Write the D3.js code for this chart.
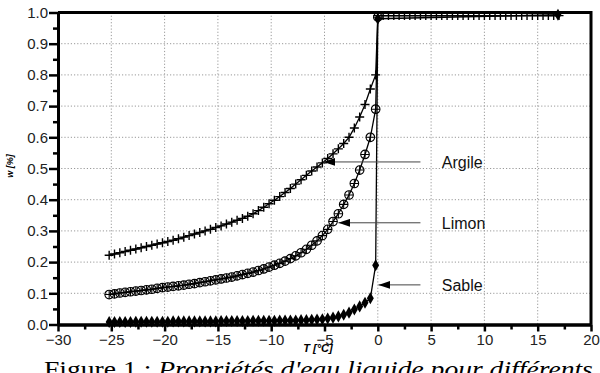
<!DOCTYPE html>
<html>
<head>
<meta charset="utf-8">
<script src="https://cdn.jsdelivr.net/npm/d3@7"></script>
<style>
  body { margin: 0; background: #fff; }
  svg { display: block; font-family: "Liberation Sans", Arial, sans-serif; }
</style>
</head>
<body>
<svg class="chart" width="600" height="373"></svg>
<script>
// temperatures of the measured points (freezing branch)
const temps = [
  -25.2, -24.7, -24.2, -23.7, -23.2, -22.7, -22.2, -21.7, -21.2, -20.7,
  -20.2, -19.7, -19.2, -18.7, -18.2, -17.7, -17.2, -16.7, -16.2, -15.7,
  -15.2, -14.7, -14.2, -13.7, -13.2, -12.7, -12.2, -11.7, -11.2, -10.7,
  -10.2, -9.7, -9.2, -8.7, -8.2, -7.7, -7.2, -6.7, -6.2, -5.7,
  -5.2, -4.7, -4.2, -3.7, -3.2, -2.7, -2.2, -1.7, -1.2, -0.7, -0.2
];

const argile = [
  0.222, 0.226, 0.230, 0.234, 0.238, 0.242, 0.246, 0.250, 0.254, 0.258,
  0.262, 0.266, 0.270, 0.275, 0.280, 0.285, 0.290, 0.295, 0.300, 0.305,
  0.311, 0.316, 0.322, 0.328, 0.334, 0.340, 0.347, 0.355, 0.365, 0.376,
  0.387, 0.398, 0.410, 0.423, 0.436, 0.450, 0.464, 0.478, 0.492, 0.505,
  0.518, 0.532, 0.547, 0.563, 0.580, 0.600, 0.630, 0.665, 0.705, 0.755, 0.800
];

const limon = [
  0.096, 0.098, 0.101, 0.103, 0.105, 0.107, 0.109, 0.111, 0.113, 0.116,
  0.118, 0.120, 0.122, 0.124, 0.126, 0.129, 0.131, 0.134, 0.137, 0.140,
  0.143, 0.146, 0.149, 0.152, 0.156, 0.160, 0.164, 0.168, 0.173, 0.178,
  0.184, 0.190, 0.196, 0.203, 0.211, 0.220, 0.230, 0.241, 0.254, 0.268,
  0.285, 0.305, 0.330, 0.355, 0.385, 0.415, 0.452, 0.495, 0.545, 0.600, 0.690
];

const sable = [
  0.008, 0.008, 0.008, 0.008, 0.008, 0.009, 0.009, 0.009, 0.009, 0.009,
  0.009, 0.009, 0.010, 0.010, 0.010, 0.010, 0.010, 0.010, 0.010, 0.010,
  0.010, 0.011, 0.011, 0.011, 0.011, 0.011, 0.011, 0.012, 0.012, 0.012,
  0.012, 0.012, 0.013, 0.013, 0.013, 0.013, 0.014, 0.014, 0.015, 0.016,
  0.017, 0.019, 0.022, 0.026, 0.031, 0.038, 0.048, 0.058, 0.070, 0.084, 0.190
];

// thawed branch (T >= 0)
const tempsMelt = [
  0.0, 0.5, 1.0, 1.5, 2.0, 2.5, 3.0, 3.5, 4.0, 4.5, 5.0, 5.5,
  6.0, 6.5, 7.0, 7.5, 8.0, 8.5, 9.0, 9.5, 10.0, 10.5, 11.0, 11.5,
  12.0, 12.5, 13.0, 13.5, 14.0, 14.5, 15.0, 15.5, 16.0, 16.5, 17.0
];
const argileMelt = [
  0.99, 0.99, 0.99, 0.99, 0.99, 0.99, 0.99, 0.99, 0.99, 0.99, 0.99, 0.99,
  0.99, 0.99, 0.99, 0.99, 0.99, 0.99, 0.99, 0.99, 0.99, 0.99, 0.99, 0.99,
  0.99, 0.99, 0.99, 0.99, 0.99, 0.99, 0.99, 0.99, 0.99, 0.99, 0.99
];
const limonMeltT = [0.0];
const limonMelt = [0.985];
const sableMeltT = [0.0, 16.9];
const sableMelt = [0.98, 0.993];

const xTicks = [-30, -25, -20, -15, -10, -5, 0, 5, 10, 15, 20];
const yTicks = [0.0, 0.1, 0.2, 0.3, 0.4, 0.5, 0.6, 0.7, 0.8, 0.9, 1.0];

// annotations
const labels = ["Argile", "Limon", "Sable"];
const labelTipT = [-5.1, -3.7, 0.06];
const labelW = [0.521, 0.326, 0.127];

const svg = d3.select("svg.chart");

const x = d3.scaleLinear().domain([-30, 20]).range([58, 591]);
const y = d3.scaleLinear().domain([0, 1]).range([324.5, 12.5]);

// dotted grid
svg.append("g")
  .selectAll("line.vgrid")
  .data(xTicks.slice(1, -1))
  .enter()
  .append("line")
  .attr("x1", d => x(d))
  .attr("x2", d => x(d))
  .attr("y1", y(1))
  .attr("y2", y(0))
  .attr("stroke", "#999")
  .attr("stroke-dasharray", "1.2,2");

svg.append("g")
  .selectAll("line.hgrid")
  .data(yTicks.slice(1, -1))
  .enter()
  .append("line")
  .attr("x1", x(-30))
  .attr("x2", x(20))
  .attr("y1", d => y(d))
  .attr("y2", d => y(d))
  .attr("stroke", "#999")
  .attr("stroke-dasharray", "1.2,2");

// build point lists
const ptsArgile = temps.map((t, i) => [t, argile[i]])
  .concat(tempsMelt.map((t, i) => [t, argileMelt[i]]));
const ptsLimon = temps.map((t, i) => [t, limon[i]])
  .concat(limonMeltT.map((t, i) => [t, limonMelt[i]]));
const ptsSable = temps.map((t, i) => [t, sable[i]])
  .concat(sableMeltT.map((t, i) => [t, sableMelt[i]]));

const line = d3.line().x(d => x(d[0])).y(d => y(d[1]));

[ptsArgile, ptsLimon, ptsSable].forEach(pts => {
  svg.append("path")
    .attr("d", line(pts))
    .attr("fill", "none")
    .attr("stroke", "#000")
    .attr("stroke-width", 1.3);
});

// markers
svg.append("g")
  .selectAll("path")
  .data(ptsSable)
  .enter()
  .append("path")
  .attr("transform", d => `translate(${x(d[0])},${y(d[1])})`)
  .attr("d", d3.symbol().type(d3.symbolDiamond).size(42))
  .attr("fill", "#000");

const limonG = svg.append("g")
  .selectAll("g")
  .data(ptsLimon)
  .enter()
  .append("g")
  .attr("transform", d => `translate(${x(d[0])},${y(d[1])})`);
limonG.append("circle")
  .attr("r", 4.3)
  .attr("fill", "none")
  .attr("stroke", "#000")
  .attr("stroke-width", 1.1);
limonG.append("path")
  .attr("d", "M-4.3,0H4.3M0,-4.3V4.3")
  .attr("stroke", "#000")
  .attr("stroke-width", 1.1);

svg.append("g")
  .selectAll("path")
  .data(ptsArgile)
  .enter()
  .append("path")
  .attr("transform", d => `translate(${x(d[0])},${y(d[1])})`)
  .attr("d", "M-4.5,0H4.5M0,-4.5V4.5")
  .attr("stroke", "#000")
  .attr("stroke-width", 1.4);

// frame top and right
svg.append("path")
  .attr("d", `M${x(-30)},${y(1)}H${x(20)}V${y(0)}`)
  .attr("fill", "none")
  .attr("stroke", "#000")
  .attr("stroke-width", 3);

// axes
const minorY = [0.05, 0.15, 0.25, 0.35, 0.45, 0.55, 0.65, 0.75, 0.85, 0.95];
const minorX = [-27.5, -22.5, -17.5, -12.5, -7.5, -2.5, 2.5, 7.5, 12.5, 17.5];

const yAxis = svg.append("g")
  .attr("transform", `translate(${x(-30)},0)`)
  .call(d3.axisLeft(y).tickValues(yTicks).tickFormat(d3.format(".1f")).tickSize(9).tickSizeOuter(0));
svg.append("g")
  .attr("transform", `translate(${x(-30)},0)`)
  .call(d3.axisLeft(y).tickValues(minorY).tickFormat("").tickSize(5).tickSizeOuter(0));

const xAxis = svg.append("g")
  .attr("transform", `translate(0,${y(0)})`)
  .call(d3.axisBottom(x).tickValues(xTicks).tickSize(7).tickSizeOuter(0));
svg.append("g")
  .attr("transform", `translate(0,${y(0)})`)
  .call(d3.axisBottom(x).tickValues(minorX).tickFormat("").tickSize(5).tickSizeOuter(0));

svg.selectAll(".domain").attr("stroke-width", 3).attr("stroke", "#000");
svg.selectAll(".tick line").attr("stroke-width", 2.5).attr("stroke", "#000");
yAxis.selectAll("text")
  .attr("font-size", 15)
  .attr("font-family", "Liberation Sans, Arial, sans-serif")
  .attr("fill", "#222")
  .attr("x", -10);
xAxis.selectAll("text")
  .attr("font-size", 15)
  .attr("font-family", "Liberation Sans, Arial, sans-serif")
  .attr("fill", "#222")
  .attr("y", 10);

// axis titles
svg.append("text")
  .attr("transform", "translate(13,166) rotate(-90)")
  .attr("text-anchor", "middle")
  .attr("font-size", 9)
  .attr("font-weight", "bold")
  .attr("font-style", "italic")
  .text("w [%]");

// figure caption (cut by the bottom of the picture)
const cap = svg.append("text")
  .attr("transform", "translate(44,377) scale(1.15,1)")
  .attr("font-family", "Liberation Serif, Times New Roman, serif")
  .attr("font-size", 24);
cap.append("tspan").text("Figure 1 : ");
cap.append("tspan").attr("font-style", "italic").text("Propriétés d'eau liquide pour différents sols");

svg.append("text")
  .attr("x", 318)
  .attr("y", 352)
  .attr("text-anchor", "middle")
  .attr("font-size", 11)
  .attr("font-weight", "bold")
  .attr("font-style", "italic")
  .text("T [°C]");

// annotation arrows
svg.append("defs").append("marker")
  .attr("id", "head")
  .attr("viewBox", "0 0 12 8")
  .attr("refX", 0)
  .attr("refY", 4)
  .attr("markerWidth", 12)
  .attr("markerHeight", 8)
  .attr("markerUnits", "userSpaceOnUse")
  .attr("orient", "auto")
  .append("path")
  .attr("d", "M0,4L12,0L12,8Z")
  .attr("fill", "#000");

labels.forEach((lab, i) => {
  svg.append("line")
    .attr("x1", x(labelTipT[i]))
    .attr("x2", x(4))
    .attr("y1", y(labelW[i]))
    .attr("y2", y(labelW[i]))
    .attr("stroke", "#444")
    .attr("stroke-width", 1)
    .attr("marker-start", "url(#head)");
  svg.append("text")
    .attr("x", x(6))
    .attr("y", y(labelW[i]) + 6)
    .attr("font-size", 16)
    .attr("fill", "#111")
    .text(lab);
});
</script>
</body>
</html>
